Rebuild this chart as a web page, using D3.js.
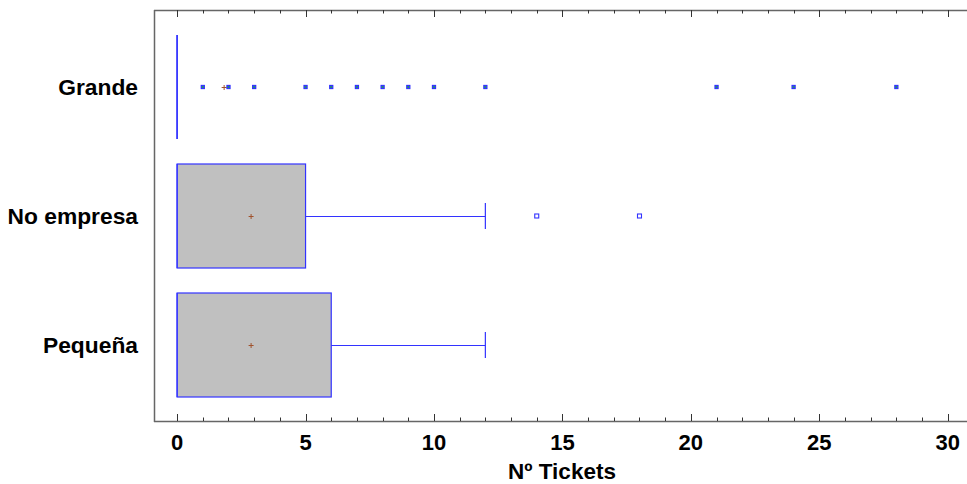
<!DOCTYPE html>
<html><head><meta charset="utf-8">
<script src="https://cdn.jsdelivr.net/npm/d3@7"></script>
<style>body{margin:0;background:#fff}svg{display:block}text{font-family:"Liberation Sans",Arial,sans-serif;font-weight:bold}</style>
</head><body><svg id="c" width="967" height="484"></svg>
<script>
const categories = ["Grande", "No empresa", "Pequeña"];
const q1 = [0, 0, 0];
const median = [0, 0, 0];
const q3 = [0, 5, 6];
const whiskerLow = [0, 0, 0];
const whiskerHigh = [0, 12, 12];
const means = [1.83, 2.88, 2.88];
const farOutliers = [[1, 2, 3, 5, 6, 7, 8, 9, 10, 12, 21, 24, 28], [], []];
const nearOutliers = [[], [14, 18], []];
const xTicks = [0, 5, 10, 15, 20, 25, 30];
const xTitle = "Nº Tickets";

(function () {
const svg = d3.select("#c");
const x = d3.scaleLinear().domain([-0.9, 30.75]).range([154, 967]);
const y = d3.scalePoint().domain(categories).range([87, 345]);
const boxH = 104, capH = 26;
const pTop = 10, pBottom = 421, pLeft = 154;

svg.append("line").attr("x1", pLeft).attr("x2", 967).attr("y1", pTop + 0.5).attr("y2", pTop + 0.5).attr("stroke", "#666").attr("stroke-width", 1.5);
svg.append("line").attr("x1", pLeft).attr("x2", 967).attr("y1", pBottom + 0.5).attr("y2", pBottom + 0.5).attr("stroke", "#666").attr("stroke-width", 1.5);
svg.append("line").attr("x1", pLeft + 0.5).attr("x2", pLeft + 0.5).attr("y1", pTop).attr("y2", pBottom + 1).attr("stroke", "#666").attr("stroke-width", 1.5);

d3.range(0, 31, 1).forEach(v => {
  const major = v % 5 === 0;
  const len = major ? 7 : 3.5;
  const xp = Math.round(x(v)) + 0.5;
  svg.append("line").attr("x1", xp).attr("x2", xp).attr("y1", pBottom).attr("y2", pBottom - len).attr("stroke", "#333");
  svg.append("line").attr("x1", xp).attr("x2", xp).attr("y1", pTop).attr("y2", pTop + len).attr("stroke", "#333");
});
xTicks.forEach(v => {
  svg.append("text").attr("x", x(v)).attr("y", 450).attr("text-anchor", "middle").attr("font-size", 22).text(v);
});
svg.append("text").attr("x", 562).attr("y", 479).attr("text-anchor", "middle").attr("font-size", 22.5).text(xTitle);

categories.forEach(c => {
  svg.append("text").attr("x", 138).attr("y", y(c) + 8).attr("text-anchor", "end").attr("font-size", 22.8).text(c);
});

const blue = "#3333ff";
categories.forEach((c, i) => {
  const cy = y(c);
  if (q3[i] > q1[i]) {
    svg.append("rect").attr("x", x(q1[i])).attr("y", cy - boxH / 2).attr("width", x(q3[i]) - x(q1[i])).attr("height", boxH)
      .attr("fill", "#c0c0c0").attr("stroke", blue).attr("stroke-width", 1.2);
  } else {
    svg.append("line").attr("x1", x(q1[i])).attr("x2", x(q1[i])).attr("y1", cy - boxH / 2).attr("y2", cy + boxH / 2).attr("stroke", blue).attr("stroke-width", 1.5);
  }
  svg.append("line").attr("x1", x(median[i])).attr("x2", x(median[i])).attr("y1", cy - boxH / 2).attr("y2", cy + boxH / 2).attr("stroke", blue).attr("stroke-width", 1.2);
  if (whiskerHigh[i] > q3[i]) {
    svg.append("line").attr("x1", x(q3[i])).attr("x2", x(whiskerHigh[i])).attr("y1", cy + 0.5).attr("y2", cy + 0.5).attr("stroke", blue).attr("stroke-width", 1.2);
    svg.append("line").attr("x1", x(whiskerHigh[i])).attr("x2", x(whiskerHigh[i])).attr("y1", cy - capH / 2).attr("y2", cy + capH / 2).attr("stroke", blue).attr("stroke-width", 1.2);
  }
  const mx = x(means[i]);
  svg.append("path").attr("d", `M${mx - 2.5},${cy + 0.5}H${mx + 2.5}M${mx},${cy - 2}V${cy + 3}`).attr("stroke", "#a0522d").attr("stroke-width", 1).attr("fill", "none");
  farOutliers[i].forEach(v => {
    svg.append("rect").attr("x", x(v) - 1.5).attr("y", cy - 1.5).attr("width", 3).attr("height", 3).attr("fill", "#22aa44").attr("stroke", blue).attr("stroke-width", 1.3);
  });
  nearOutliers[i].forEach(v => {
    svg.append("rect").attr("x", x(v) - 2).attr("y", cy - 2).attr("width", 4).attr("height", 4).attr("fill", "#fff").attr("stroke", blue).attr("stroke-width", 1.1);
  });
});
})();
</script></body></html>
